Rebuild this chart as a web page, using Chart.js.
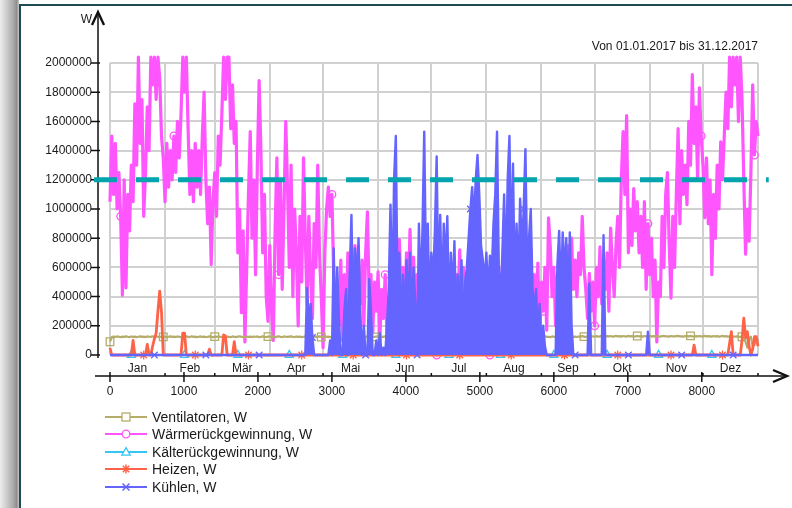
<!DOCTYPE html>
<html>
<head>
<meta charset="utf-8">
<title>Leistungen 2017</title>
<style>
html,body{margin:0;padding:0;}
body{width:792px;height:508px;overflow:hidden;position:relative;background:#fff;font-family:"Liberation Sans",Arial,sans-serif;}
#shade{position:absolute;left:0;top:0;width:19px;height:508px;background:linear-gradient(to right,#ededed 0%,#aaaaaa 70%,#8e8e8e 88%,#c8c8c8 100%);}
#panel{position:absolute;left:19px;top:4px;right:0;bottom:0;background:#fff;border-left:2px solid #1e4b53;border-top:2px solid #1e4b53;}
#chart{position:absolute;left:0;top:0;}
#legend{position:absolute;left:105px;top:408px;font-size:14px;color:#1a1a1a;}
#legend .row{height:17.5px;display:flex;align-items:center;}
#legend svg{margin-right:5px;}
</style>
</head>
<body>
<div id="shade"></div>
<div id="panel"></div>
<canvas id="chart" width="792" height="508"></canvas>
<div id="legend"></div>
<script src="https://cdn.jsdelivr.net/npm/chart.js@4.4.0/dist/chart.umd.min.js"></script>
<script>
// axis labels / ticks
const months = ['Jan','Feb','Mär','Apr','Mai','Jun','Jul','Aug','Sep','Okt','Nov','Dez'];
const monthStartHours = [0,744,1416,2160,2880,3624,4344,5088,5832,6552,7296,8016,8760];
const hourTicks = [0,1000,2000,3000,4000,5000,6000,7000,8000];
const yTicks = [0,200000,400000,600000,800000,1000000,1200000,1400000,1600000,1800000,2000000];
const subtitle = 'Von 01.01.2017 bis 31.12.2017';
const seriesNames = ['Ventilatoren, W','Wärmerückgewinnung, W','Kälterückgewinnung, W','Heizen, W','Kühlen, W'];

// one value per day (every 24 h), day 0 .. day 365
const sampleHours = 24;

// dashed limit line
const refLineValue = 1200000;
const refLineSpan = [-216, 8905];

const ventilatoren = [
  91000,123000,126000,124000,127000,125000,122000,126000,124000,128000,
  125000,123000,127000,124000,126000,122000,125000,128000,124000,126000,
  123000,127000,125000,124000,128000,122000,126000,125000,123000,127000,
  124000,126000,122000,125000,128000,124000,126000,123000,127000,125000,
  122000,126000,124000,127000,125000,123000,128000,124000,126000,122000,
  125000,127000,124000,126000,123000,125000,128000,124000,122000,126000,
  124000,127000,125000,123000,126000,128000,124000,125000,122000,127000,
  125000,123000,126000,128000,124000,125000,122000,127000,124000,126000,
  123000,126000,125000,127000,122000,124000,128000,125000,123000,126000,
  127000,124000,125000,122000,126000,128000,124000,123000,127000,125000,
  124000,126000,128000,125000,123000,127000,124000,126000,122000,125000,
  128000,124000,126000,123000,127000,125000,124000,126000,128000,123000,
  125000,127000,124000,126000,122000,125000,128000,124000,126000,123000,
  127000,125000,123000,126000,128000,124000,125000,122000,127000,124000,
  126000,123000,125000,127000,124000,128000,125000,123000,126000,124000,
  127000,125000,122000,126000,124000,128000,125000,123000,127000,124000,
  126000,128000,124000,125000,123000,127000,125000,122000,126000,124000,
  128000,125000,123000,126000,124000,127000,125000,123000,128000,124000,
  126000,122000,125000,127000,124000,126000,128000,124000,125000,123000,
  127000,125000,124000,126000,122000,128000,125000,123000,126000,124000,
  127000,125000,123000,126000,128000,124000,125000,122000,127000,124000,
  126000,128000,125000,123000,126000,124000,127000,125000,123000,128000,
  124000,126000,122000,125000,127000,124000,126000,128000,124000,125000,
  123000,127000,125000,124000,126000,122000,128000,125000,123000,126000,
  124000,127000,125000,123000,126000,128000,124000,125000,122000,127000,
  125000,123000,126000,128000,124000,125000,122000,127000,124000,126000,
  128000,124000,126000,123000,127000,125000,129000,126000,124000,128000,
  126000,130000,127000,125000,129000,126000,128000,131000,127000,125000,
  129000,127000,130000,126000,128000,131000,127000,129000,126000,130000,
  128000,126000,131000,127000,129000,125000,128000,130000,127000,129000,
  126000,130000,128000,127000,131000,126000,129000,127000,130000,128000,
  126000,129000,131000,127000,128000,126000,130000,128000,127000,129000,
  131000,127000,128000,126000,130000,129000,127000,131000,128000,126000,
  129000,127000,130000,128000,126000,131000,127000,129000,128000,126000,
  130000,127000,129000,126000,128000,131000,127000,129000,126000,128000,
  130000,127000,125000,128000,126000,124000,125000,120000,90000,50000,
  110000,125000,60000,68000,120000,100000
];

const waermerueckgewinnung = [
  1050000,1500000,1100000,1450000,1000000,1250000,950000,410000,1200000,460000,
  1100000,850000,1300000,1050000,1720000,1300000,2040000,1450000,1750000,950000,
  1250000,1700000,1400000,2040000,1850000,2040000,1750000,2040000,1900000,1500000,
  1350000,1050000,1450000,1150000,1400000,1200000,1500000,1250000,1600000,1350000,
  1650000,2040000,1800000,2040000,1550000,1100000,1400000,1050000,1450000,1150000,
  1400000,1100000,1500000,1800000,1200000,900000,1150000,620000,1050000,1250000,
  950000,1500000,1300000,1650000,2040000,1750000,2040000,2040000,1550000,1850000,
  1450000,1600000,700000,1000000,290000,850000,90000,600000,1100000,1530000,
  800000,1200000,550000,1300000,1880000,1400000,700000,1100000,400000,230000,
  750000,300000,100000,850000,1350000,550000,1200000,450000,1000000,1600000,
  1150000,600000,1300000,400000,1000000,700000,200000,950000,500000,1350000,
  800000,350000,950000,550000,250000,900000,600000,1300000,700000,400000,
  50000,700000,1000000,1150000,950000,1100000,550000,150000,450000,200000,
  650000,100000,550000,250000,700000,150000,600000,300000,750000,100000,
  550000,350000,650000,200000,700000,980000,400000,550000,150000,500000,
  300000,570000,100000,450000,250000,550000,120000,400000,200000,550000,
  300000,650000,150000,790000,350000,600000,200000,700000,400000,860000,
  300000,670000,250000,550000,100000,600000,350000,500000,200000,670000,
  300000,550000,150000,450000,0,400000,200000,550000,100000,500000,
  300000,600000,150000,450000,250000,550000,350000,720000,200000,600000,
  300000,500000,200000,450000,350000,550000,250000,500000,400000,600000,
  300000,550000,200000,450000,0,400000,250000,500000,300000,600000,
  200000,450000,350000,550000,150000,500000,300000,450000,100000,400000,
  250000,550000,200000,500000,350000,620000,150000,730000,300000,550000,
  200000,630000,100000,500000,300000,600000,170000,940000,740000,400000,
  600000,200000,550000,300000,650000,250000,700000,400000,750000,510000,
  800000,450000,650000,400000,700000,550000,950000,600000,450000,250000,
  560000,300000,500000,200000,600000,400000,740000,350000,650000,450000,
  700000,300000,870000,600000,400000,750000,950000,600000,1200000,1530000,
  1100000,1640000,700000,1000000,750000,1140000,850000,1050000,700000,950000,
  600000,1050000,450000,900000,550000,800000,400000,650000,90000,500000,
  400000,950000,600000,1100000,1250000,750000,390000,950000,600000,1100000,
  1550000,900000,1400000,1100000,1300000,1030000,1600000,1300000,1920000,1450000,
  1700000,1200000,1830000,1500000,1300000,940000,1350000,900000,1200000,550000,
  1100000,800000,1300000,1000000,1460000,1200000,1500000,1800000,1550000,2040000,
  1700000,2040000,1850000,2040000,1600000,2040000,1750000,1200000,690000,1000000,
  780000,1250000,1850000,1370000,1600000,1500000
];

const kaelterueckgewinnung = [
  0,0,0,0,0,0,0,0,0,0, 0,0,0,0,0,0,0,0,0,0, 0,0,0,0,0,0,0,0,0,0, 0,0,0,0,0,0,0,0,0,0,
  0,0,0,0,0,0,0,0,0,0, 0,0,0,0,0,0,0,0,0,0, 0,0,0,0,0,0,0,0,0,0, 0,0,0,0,0,0,0,0,0,0,
  0,0,0,0,0,0,0,0,0,0, 0,0,0,0,0,0,0,0,0,0, 0,0,0,0,0,0,0,0,0,0, 0,0,0,0,0,0,0,0,0,0,
  0,0,0,0,0,0,0,0,0,0, 0,0,0,0,0,0,0,0,0,0, 0,0,0,0,0,0,0,0,0,0, 0,0,0,0,0,0,0,0,0,0,
  0,0,0,0,0,0,0,0,0,0, 0,0,0,0,0,0,0,0,0,0, 0,0,0,0,0,0,0,0,0,0, 0,0,0,0,0,0,0,0,0,0,
  0,0,0,0,0,0,0,0,0,0, 0,0,0,0,0,0,0,0,0,0, 0,0,0,0,0,0,0,0,0,0, 0,0,0,0,0,0,0,0,0,0,
  0,0,0,0,0,0,0,0,0,0, 0,0,0,0,0,0,0,0,0,0, 0,0,0,0,0,0,0,0,0,0, 0,0,0,0,0,0,0,0,0,0,
  0,0,0,0,0,0,0,0,0,0, 0,0,0,0,0,0,0,0,0,0, 0,0,0,0,0,0,0,0,0,0, 0,0,0,0,0,0,0,0,0,0,
  0,0,0,0,0,0,0,0,0,0, 0,0,0,0,0,0,0,0,0,0, 0,0,0,0,0,0,0,0,0,0, 0,0,0,0,0,0,0,0,0,0,
  0,0,0,0,0,0
];

const heizen = [
  48000,0,0,0,0,0,0,0,0,0,
  0,0,0,100000,0,0,0,0,0,0,
  0,73000,0,0,60000,110000,150000,300000,438000,297000,
  0,0,0,0,0,0,0,0,0,0,
  0,150000,150000,0,0,0,0,0,0,0,
  0,0,0,0,0,0,40000,0,0,0,
  0,0,0,0,137000,130000,0,0,0,0,
  91000,0,0,0,0,0,0,0,0,0,
  0,0,0,0,0,0,0,0,0,0, 0,0,0,0,0,0,0,0,0,0, 0,0,0,0,0,0,0,0,0,0, 0,0,0,0,0,0,0,0,0,0,
  0,0,0,0,0,0,0,0,0,0, 0,0,0,0,0,0,0,0,0,0, 0,0,0,0,0,0,0,0,0,0, 0,0,0,0,0,0,0,0,0,0,
  0,0,0,0,0,0,0,0,0,0, 0,0,0,0,0,0,0,0,0,0, 0,0,0,0,0,0,0,0,0,0, 0,0,0,0,0,0,0,0,0,0,
  0,0,0,0,0,0,0,0,0,0, 0,0,0,0,0,0,0,0,0,0, 0,0,0,0,0,0,0,0,0,0, 0,0,0,0,0,0,0,0,0,0,
  0,0,0,0,0,0,0,0,0,0, 0,0,0,0,0,0,0,0,0,0, 0,0,0,0,0,0,0,0,0,0, 0,0,0,0,0,0,0,0,0,0,
  0,0,0,0,0,0,0,0,0,0, 0,0,0,0,0,0,0,0,0,0, 0,0,0,0,0,0,0,0,0,0, 0,0,0,0,0,0,0,0,0,0,
  0,0,0,0,0,0,0,0,0,68000,
  0,0,0,0,0,0,0,0,0,0,
  0,0,0,0,0,0,0,0,0,80000,
  160000,0,0,0,0,0,100000,253000,120000,160000,
  60000,0,40000,125000,125000,60000
];

// daily peak of the cooling power (it drops to 0 every night)
const kuehlen = [
  0,0,0,0,0,0,0,0,0,0, 0,0,0,0,0,0,0,0,0,0, 0,0,0,0,0,0,0,0,0,0, 0,0,0,0,0,0,0,0,0,0,
  0,0,0,0,0,0,0,0,0,0, 0,0,0,0,0,0,0,0,0,0, 0,0,0,0,0,0,0,0,0,0, 0,0,0,0,0,0,0,0,0,0,
  0,0,0,0,0,0,0,0,0,0, 0,0,0,0,0,0,0,0,0,0, 0,0,0,0,0,0,0,0,0,0,
  0,460000,200000,350000,120000,0,0,0,0,0,
  0,0,0,0,100000,0,730000,150000,600000,230000,
  0,0,300000,450000,0,550000,960000,200000,730000,500000,
  800000,300000,0,200000,0,0,520000,300000,0,0,
  100000,0,150000,0,50000,0,200000,450000,1030000,300000,
  1200000,1500000,350000,700000,150000,550000,250000,650000,300000,700000,
  200000,600000,350000,0,900000,400000,850000,1530000,550000,900000,
  300000,700000,500000,850000,1360000,400000,960000,350000,900000,600000,
  950000,250000,700000,400000,780000,200000,550000,300000,650000,150000,
  500000,600000,800000,1000000,1150000,900000,1200000,1370000,1100000,750000,
  650000,500000,700000,400000,680000,550000,900000,1100000,1530000,600000,
  350000,700000,1100000,500000,1200000,1500000,600000,1310000,400000,900000,
  500000,1070000,700000,1000000,1410000,550000,800000,1000000,450000,300000,
  450000,100000,350000,50000,200000,60000,0,0,0,0,
  0,0,620000,850000,400000,840000,550000,800000,300000,840000,
  200000,0,0,0,0,0,0,0,0,0,
  490000,0,0,0,0,0,0,0,820000,0,
  0,0,0,0,0,0,0,0,0,0, 0,0,0,0,0,0,0,0,0,0,
  0,0,0,160000,0,0,0,0,0,0,
  0,0,0,0,0,0,0,0,0,0, 0,0,0,0,0,0,0,0,0,0, 0,0,0,0,0,0,0,0,0,0,
  0,0,0,0,0,0,0,0,0,0, 0,0,0,0,0,0,0,0,0,0,
  0,0,0,0,0,0
];

const seriesValues = [ventilatoren, waermerueckgewinnung, kaelterueckgewinnung, heizen, kuehlen];

const styles = [
  {color:'#b4ac68', pointStyle:'rect',     lineWidth:2.2, radius:5.4, order:4, fill:false},
  {color:'#ff55ff', pointStyle:'circle',   lineWidth:3.2, radius:3.8, order:5, fill:false},
  {color:'#35c6f6', pointStyle:'triangle', lineWidth:2,   radius:4.6, order:3, fill:false},
  {color:'#ff6347', pointStyle:'star',     lineWidth:2.8, radius:4.6, order:2, fill:false},
  {color:'#6464ff', pointStyle:'crossRot', lineWidth:2.4, radius:4.6, order:1, fill:'origin'}
];

// markers every ~29.7 days, each series shifted a bit
const markerPeriodDays = 29.7, markerShiftDays = 6.19;
function markerSet(k){
  const s = new Set();
  for (let j = 0; j < 13; j++){
    const d = Math.round(k*markerShiftDays + j*markerPeriodDays);
    if (d <= 365) s.add(d);
  }
  return s;
}

const datasets = seriesValues.map((vals,k) => {
  const st = styles[k], marks = markerSet(k);
  return {
    label: seriesNames[k],
    data: vals.map((v,i) => ({x: i*sampleHours, y: v})),
    borderColor: st.color,
    backgroundColor: st.color,
    borderWidth: st.lineWidth,
    borderJoinStyle: 'round',
    pointStyle: st.pointStyle,
    pointBorderColor: st.color,
    pointBackgroundColor: 'rgba(255,255,255,0)',
    pointBorderWidth: 1.3,
    pointRadius: ctx => marks.has(ctx.dataIndex) ? st.radius : 0,
    order: st.order,
    clip: {left:6, top:8, right:6, bottom:6},
    fill: st.fill
  };
});

datasets.push({
  label: 'Grenze',
  data: refLineSpan.map(h => ({x: h, y: refLineValue})),
  borderColor: '#04a4ae',
  borderWidth: 5,
  borderDash: [23,19],
  borderCapStyle: 'butt',
  pointRadius: 0,
  clip: false,
  fill: false,
  order: 0
});

const monthMid = months.map((m,i) => (monthStartHours[i] + monthStartHours[i+1]) / 2);

const axisDecor = {
  id: 'axisDecor',
  beforeDatasetsDraw(chart){
    const {ctx, chartArea, scales} = chart;
    const ax = chartArea.left - 12;
    const ay = scales.x.top;
    ctx.save();
    ctx.strokeStyle = '#111';
    ctx.lineWidth = 1.5;
    ctx.beginPath();
    ctx.moveTo(ax, 14); ctx.lineTo(ax, chartArea.bottom + 3);
    ctx.moveTo(ax - 3, ay); ctx.lineTo(chart.width - 7, ay);
    scales.y.ticks.forEach(t => {
      const p = scales.y.getPixelForValue(t.value);
      ctx.moveTo(ax - 7, p); ctx.lineTo(ax + 2, p);
    });
    scales.x.ticks.forEach(t => {
      const p = scales.x.getPixelForValue(t.value);
      ctx.moveTo(p, ay - 4); ctx.lineTo(p, ay + 6);
    });
    monthStartHours.slice(1).forEach(h => {
      const p = scales.xg.getPixelForValue(h);
      ctx.moveTo(p, ay - 3); ctx.lineTo(p, ay);
    });
    ctx.stroke();
    ctx.lineWidth = 2.4;
    ctx.beginPath();
    ctx.moveTo(ax - 6, 25); ctx.lineTo(ax, 12); ctx.lineTo(ax + 6, 25);
    ctx.stroke();
    ctx.beginPath();
    ctx.moveTo(chart.width - 19, ay - 6); ctx.lineTo(chart.width - 5, ay); ctx.lineTo(chart.width - 19, ay + 6);
    ctx.stroke();
    ctx.fillStyle = '#1a1a1a';
    ctx.font = '12px "Liberation Sans", Arial, sans-serif';
    ctx.textAlign = 'right';
    ctx.textBaseline = 'middle';
    ctx.fillText('W', ax - 6, 20);
    ctx.restore();
  }
};

Chart.defaults.font.family = '"Liberation Sans", Arial, sans-serif';
Chart.defaults.font.size = 12;
Chart.defaults.color = '#1a1a1a';

new Chart(document.getElementById('chart'), {
  type: 'line',
  data: {datasets},
  options: {
    responsive: false,
    animation: false,
    devicePixelRatio: 1,
    events: [],
    layout: {padding: {left:22, right:34, top:37, bottom:102}},
    plugins: {
      legend: {display: false},
      tooltip: {enabled: false},
      title: {display: true, text: subtitle, align: 'end', color: '#1a1a1a',
              font: {size: 12, weight: 'normal'}, padding: {top: 2, bottom: 9.6}}
    },
    scales: {
      x: {
        type: 'linear', position: 'bottom', weight: 2, min: 0, max: 8760,
        afterBuildTicks: s => { s.ticks = hourTicks.map(v => ({value: v})); },
        afterFit: s => { s.height = 30; },
        grid: {display: false, drawTicks: true, tickLength: 6},
        border: {display: false},
        ticks: {autoSkip: false, maxRotation: 0, padding: 2, callback: v => String(v)}
      },
      xm: {
        type: 'linear', position: 'bottom', weight: 1, min: 0, max: 8760,
        afterBuildTicks: s => { s.ticks = monthMid.map(v => ({value: v})); },
        afterFit: s => { s.height = 21; },
        grid: {display: false, drawTicks: false},
        border: {display: false},
        ticks: {autoSkip: false, maxRotation: 0, padding: 6, callback: (v,i) => months[i]}
      },
      xg: {
        type: 'linear', position: 'bottom', weight: 0, min: 0, max: 8760,
        afterBuildTicks: s => { s.ticks = monthStartHours.map(v => ({value: v})); },
        afterFit: s => { s.height = 0; },
        grid: {color: '#d0d0d0', lineWidth: 2, drawTicks: false},
        border: {display: false},
        ticks: {display: false}
      },
      y: {
        type: 'linear', position: 'left', min: 0, max: 2000000,
        afterBuildTicks: s => { s.ticks = yTicks.map(v => ({value: v})); },
        afterFit: s => { s.width = 88; },
        grid: {color: '#d0d0d0', lineWidth: 2, drawTicks: false},
        border: {display: false},
        ticks: {padding: 18, callback: v => String(v)}
      }
    }
  },
  plugins: [axisDecor]
});

// legend below the axis, one entry per row
function legendIcon(st){
  const c = st.color;
  let m = '';
  if (st.pointStyle === 'rect') m = `<rect x="17" y="2" width="8" height="8" fill="#fff" stroke="${c}" stroke-width="1.3"/>`;
  if (st.pointStyle === 'circle') m = `<circle cx="21" cy="6" r="3.8" fill="#fff" stroke="${c}" stroke-width="1.3"/>`;
  if (st.pointStyle === 'triangle') m = `<polygon points="21,1.5 25.2,9.2 16.8,9.2" fill="#fff" stroke="${c}" stroke-width="1.3"/>`;
  if (st.pointStyle === 'star') m = `<path d="M21,1.5V10.5M16.5,6H25.5M17.8,2.8L24.2,9.2M24.2,2.8L17.8,9.2" stroke="${c}" stroke-width="1.5"/>`;
  if (st.pointStyle === 'crossRot') m = `<path d="M17.5,2.5L24.5,9.5M24.5,2.5L17.5,9.5" stroke="${c}" stroke-width="1.5"/>`;
  return `<svg width="42" height="12" viewBox="0 0 42 12"><line x1="0" y1="6" x2="42" y2="6" stroke="${c}" stroke-width="2"/>${m}</svg>`;
}
const legendEl = document.getElementById('legend');
seriesNames.forEach((name,k) => {
  const row = document.createElement('div');
  row.className = 'row';
  row.innerHTML = legendIcon(styles[k]) + '<span>' + name + '</span>';
  legendEl.appendChild(row);
});
</script>
</body>
</html>
